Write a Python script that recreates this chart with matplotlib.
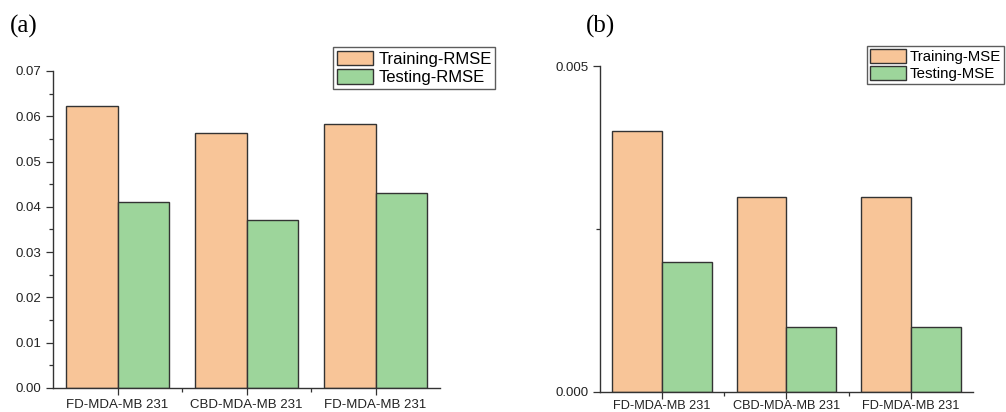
import matplotlib
matplotlib.use("Agg")
import matplotlib.pyplot as plt
import numpy as np
from matplotlib.ticker import MultipleLocator, FixedLocator

categories = ["FD-MDA-MB 231", "CBD-MDA-MB 231", "FD-MDA-MB 231"]
train_rmse = [0.0622, 0.0562, 0.0582]
test_rmse = [0.0410, 0.0371, 0.0431]
train_mse = [0.0040, 0.0030, 0.0030]
test_mse = [0.0020, 0.0010, 0.0010]

ORANGE = "#F8C598"
GREEN = "#9DD59B"
EDGE = "#333333"

plt.rcParams['font.family'] = ['Liberation Sans', 'DejaVu Sans']

fig = plt.figure(figsize=(10.06, 4.12), dpi=100)
axA = fig.add_axes([0.0527, 0.0583, 0.3847, 0.7694])
axB = fig.add_axes([0.5964, 0.0490, 0.3708, 0.7900])

x = np.arange(len(categories))
w = 0.4

def style(ax, tr, te, labels, ylim, major, minor, fmt, loc, xpad, xfs, htp, lfs, hl):
    ax.bar(x - w/2, tr, w, color=ORANGE, edgecolor=EDGE, linewidth=1.0, label=labels[0])
    ax.bar(x + w/2, te, w, color=GREEN, edgecolor=EDGE, linewidth=1.0, label=labels[1])
    ax.set_xlim(-0.5, 2.5)
    ax.set_ylim(*ylim)
    ax.yaxis.set_major_locator(MultipleLocator(major))
    ax.yaxis.set_minor_locator(MultipleLocator(minor))
    ax.yaxis.set_major_formatter(matplotlib.ticker.FormatStrFormatter(fmt))
    ax.set_xticks(x)
    ax.set_xticklabels(categories, fontsize=xfs)
    ax.xaxis.set_minor_locator(FixedLocator([0.5, 1.5]))
    for s in ["top", "right"]:
        ax.spines[s].set_visible(False)
    for s in ["left", "bottom"]:
        ax.spines[s].set_color("#333333")
        ax.spines[s].set_linewidth(1.0)
    ax.tick_params(axis="both", which="major", direction="out", length=5, width=0.9,
                   colors="#333333", labelsize=9.5, labelcolor="#222222")
    ax.tick_params(axis="both", which="minor", direction="out", length=3, width=0.9, colors="#333333")
    ax.tick_params(axis="x", which="major", pad=xpad, labelsize=xfs)
    leg = ax.legend(loc="upper left", bbox_to_anchor=loc, frameon=True, fancybox=False,
                    fontsize=lfs, handlelength=hl, handleheight=1.0, labelspacing=0.15,
                    borderpad=0.2, handletextpad=htp, borderaxespad=0)
    leg.get_frame().set_edgecolor("#333333")
    leg.get_frame().set_linewidth(1.0)

style(axA, train_rmse, test_rmse, ["Training-RMSE", "Testing-RMSE"], (0, 0.07), 0.01, 0.005, "%.2f",
      (0.724, 1.075), 3, 9.5, 0.3, 12, 2.2)
style(axB, train_mse, test_mse, ["Training-MSE", "Testing-MSE"], (0, 0.005), 0.005, 0.0025, "%.3f",
      (0.715, 1.062), 1.2, 9.2, 0.25, 10.8, 2.4)

fig.text(0.010, 0.92, "(a)", fontsize=18, family=["Liberation Serif"])
fig.text(0.582, 0.92, "(b)", fontsize=18, family=["Liberation Serif"])

fig.savefig("out.png", dpi=100)
